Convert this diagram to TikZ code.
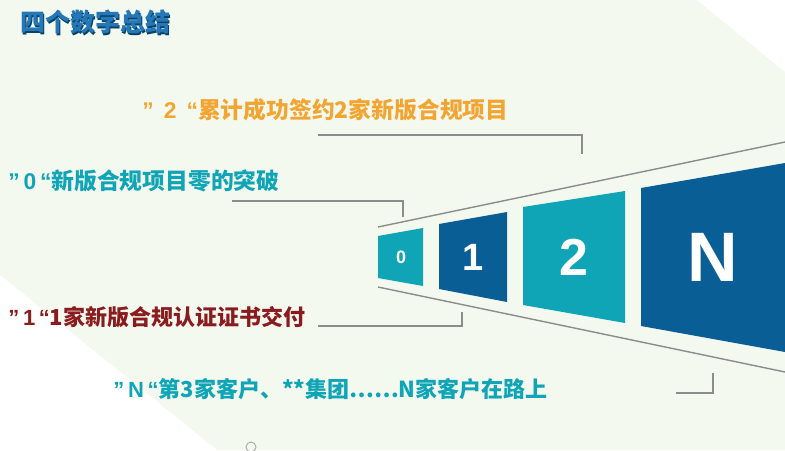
\documentclass[tikz,border=0pt]{standalone}
\usepackage{fontspec}
\setmainfont{Liberation Sans}
\newfontfamily\cjk{Noto Sans CJK SC}
\usetikzlibrary{positioning}
\definecolor{bgc}{HTML}{F4F9EF}
\definecolor{cyanc}{HTML}{0FA5B6}
\definecolor{bluec}{HTML}{0A5E96}
\definecolor{orangec}{HTML}{F3A532}
\definecolor{redc}{HTML}{8A1B1E}
\definecolor{titlec}{HTML}{2478B8}
\definecolor{linec}{HTML}{8C8C8C}
\newcommand\numtag[2][\,]{{\rmfamily ”#1#2#1“}}
\begin{document}
\begin{tikzpicture}[x=0.5pt, y=-0.5pt,
        lbl/.style={anchor=west, inner sep=0pt, font=\cjk\bfseries\fontsize{11}{13}\selectfont},
        big/.style={font=\cjk\bfseries\fontsize{11.4}{13}\selectfont},
        num/.style={text=white, inner sep=0pt},
        lead/.style={draw=linec, line width=0.6pt},
        edge/.style={draw=linec, line width=0.7pt}
    ]
        \useasboundingbox (0,0) rectangle (785,450);
        \fill[bgc] (0,0) rectangle (785,450);
        \fill[white] (697,0) -- (785,0) -- (785,72) -- cycle;
        \fill[white] (0,275) -- (217,450) -- (0,450) -- cycle;
        \draw[linec!70, line width=0.5pt] (251,447) circle (5);

        % title
        \node[lbl, text=bluec!70!black, font=\cjk\bfseries\fontsize{12.5}{15}\selectfont] (titleshadow) at (21,24) {四个数字总结};
        \node[lbl, text=titlec, font=\cjk\bfseries\fontsize{12.5}{15}\selectfont] (title) at (20,22) {四个数字总结};

        % funnel
        \draw[edge] (378,227) -- (785,142);
        \draw[edge] (378,287) -- (785,372);
        \fill[cyanc] (378,236) -- (423,228) -- (423,286) -- (378,278) -- cycle;
        \fill[bluec] (439,224) -- (507,212) -- (507,302) -- (439,289) -- cycle;
        \fill[cyanc] (523,207) -- (625,191) -- (625,323) -- (523,305) -- cycle;
        \fill[bluec] (641,188) -- (785,163) -- (785,352) -- (641,326) -- cycle;
        \node[num, font=\bfseries\fontsize{9}{10}\selectfont] (n0) at (401,257) {0};
        \node[num, font=\bfseries\fontsize{19}{20}\selectfont] (n1) at (473,257) {1};
        \node[num, font=\bfseries\fontsize{26}{28}\selectfont] (n2) at (574,257) {2};
        \node[num, font=\bfseries\fontsize{35}{38}\selectfont] (nN) at (713,257) {N};

        % labels
        \node[lbl, big, text=orangec] (lab2) at (142,110) {\numtag[\ \,]{2}累计成功签约2家新版合规项目};
        \node[lbl, big, text=cyanc] (lab0) at (8,181) {\numtag{0}新版合规项目零的突破};
        \node[lbl, text=redc] (lab1) at (8,317) {\numtag{1}1家新版合规认证证书交付};
        \node[lbl, text=cyanc] (labN) at (113,389) {\numtag{N}第3家客户、**集团……N家客户在路上};

        % leader lines
        \coordinate (p2a) at (318,135);
        \coordinate (p2b) at (582,154);
        \coordinate (p0a) at (232,201);
        \coordinate (p0b) at (403,217);
        \coordinate (p1a) at (318,326);
        \coordinate (p1b) at (462,312);
        \coordinate (pNa) at (676,393);
        \coordinate (pNb) at (713,373);
        \draw[lead] (p2a) -| (p2b);
        \draw[lead] (p0a) -| (p0b);
        \draw[lead] (p1a) -| (p1b);
        \draw[lead] (pNa) -| (pNb);
    \end{tikzpicture}
\end{document}
